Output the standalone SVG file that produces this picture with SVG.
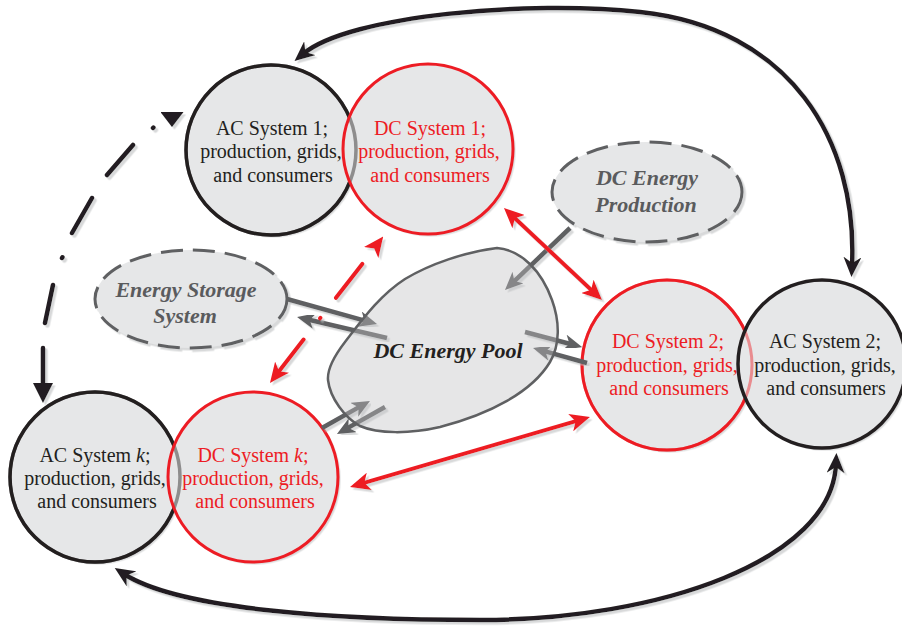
<svg xmlns="http://www.w3.org/2000/svg" width="902" height="626" viewBox="0 0 902 626">
<defs>
<filter id="sh" x="-20%" y="-20%" width="140%" height="140%"><feDropShadow dx="2.5" dy="2.5" stdDeviation="0.7" flood-color="#b8babc" flood-opacity="0.55"/></filter>
<marker id="hBlk" markerUnits="userSpaceOnUse" viewBox="0 0 20 18" markerWidth="20" markerHeight="18" refX="9" refY="9" orient="auto-start-reverse"><path d="M0,0 L20,9 L0,18 L6,9 Z" fill="#231f20"/></marker>
<marker id="hTri" markerUnits="userSpaceOnUse" viewBox="0 0 20 20" markerWidth="20" markerHeight="20" refX="4" refY="10" orient="auto-start-reverse"><path d="M0,0 L20,10 L0,20 Z" fill="#231f20"/></marker>
<marker id="hTriS" markerUnits="userSpaceOnUse" viewBox="0 0 15 23" markerWidth="15" markerHeight="23" refX="3" refY="11.5" orient="auto"><path d="M0,0 L15,11.5 L0,23 Z" fill="#231f20"/></marker>
<marker id="hRed" markerUnits="userSpaceOnUse" viewBox="0 0 20 18" markerWidth="20" markerHeight="18" refX="9" refY="9" orient="auto-start-reverse"><path d="M0,0 L20,9 L0,18 L5,9 Z" fill="#ed1c24"/></marker>
<marker id="hGray" markerUnits="userSpaceOnUse" viewBox="0 0 18 16" markerWidth="18" markerHeight="16" refX="9" refY="8" orient="auto"><path d="M0,0 L18,8 L0,16 L5,8 Z" fill="#5f6062"/></marker>
</defs>
<style>
.fill{fill:#e6e7e8}
.ac{fill:none;stroke:#231f20;stroke-width:3.5}
.dc{fill:none;stroke:#ed1c24;stroke-width:3}
.t{font-family:"Liberation Serif","Times New Roman",serif;font-size:20px;text-anchor:middle}
.tb{fill:#231f20}
.tr{fill:#ed1c24}
.ti{font-family:"Liberation Serif","Times New Roman",serif;font-size:22px;font-weight:bold;font-style:italic;text-anchor:middle}
.ell{fill:#e6e7e8;stroke:#5f6062;stroke-width:3;stroke-dasharray:22 10}
.gr{fill:none;stroke:#5f6062;stroke-width:4.5;marker-end:url(#hGray)}
.rd{fill:none;stroke:#ed1c24;stroke-width:4;marker-start:url(#hRed);marker-end:url(#hRed)}
.bk{fill:none;stroke:#231f20;stroke-width:4.5;marker-start:url(#hBlk);marker-end:url(#hBlk)}
</style>
<rect width="902" height="626" fill="#ffffff"/>

<g id="storage">
<ellipse class="ell" cx="191" cy="299" rx="96" ry="49" filter="url(#sh)"/>
<text class="ti" fill="#5a5b5d" x="186" y="297">Energy Storage</text>
<text class="ti" fill="#5a5b5d" x="185" y="323">System</text>
</g>
<g id="production">
<ellipse class="ell" cx="647" cy="192" rx="95" ry="50" filter="url(#sh)"/>
<text class="ti" fill="#5a5b5d" x="647" y="185">DC Energy</text>
<text class="ti" fill="#5a5b5d" x="646" y="212">Production</text>
</g>

<g id="ac1">
<circle class="fill" cx="271" cy="150" r="85" filter="url(#sh)"/>
<circle class="ac" cx="271" cy="150" r="85"/>
<text class="t tb" x="272" y="135">AC System 1;</text>
<text class="t tb" x="271" y="158">production, grids,</text>
<text class="t tb" x="273" y="182">and consumers</text>
</g>
<g id="dc1">
<circle class="fill" cx="428" cy="149" r="85" filter="url(#sh)"/>
<circle cx="271" cy="150" r="85" fill="none" stroke="#231f20" stroke-width="3.5" opacity="0.45"/>
<circle class="dc" cx="428" cy="149" r="85"/>
<text class="t tr" x="430" y="135">DC System 1;</text>
<text class="t tr" x="429" y="158">production, grids,</text>
<text class="t tr" x="430" y="182">and consumers</text>
</g>
<g id="dc2">
<circle class="fill" cx="667" cy="365" r="85" filter="url(#sh)"/>
<circle class="dc" cx="667" cy="365" r="85"/>
<text class="t tr" x="668" y="348">DC System 2;</text>
<text class="t tr" x="667" y="372">production, grids,</text>
<text class="t tr" x="669" y="395">and consumers</text>
</g>
<g id="ac2">
<circle class="fill" cx="822" cy="364" r="84" filter="url(#sh)"/>
<circle cx="667" cy="365" r="85" fill="none" stroke="#ed1c24" stroke-width="3" opacity="0.45"/>
<circle class="ac" cx="822" cy="364" r="84"/>
<text class="t tb" x="825" y="348">AC System 2;</text>
<text class="t tb" x="825" y="372">production, grids,</text>
<text class="t tb" x="826" y="395">and consumers</text>
</g>
<g id="ack">
<circle class="fill" cx="95" cy="477" r="85" filter="url(#sh)"/>
<circle class="ac" cx="95" cy="477" r="85"/>
<text class="t tb" x="95" y="462">AC System <tspan font-style="italic">k</tspan>;</text>
<text class="t tb" x="95" y="485">production, grids,</text>
<text class="t tb" x="97" y="508">and consumers</text>
</g>
<g id="dck">
<circle class="fill" cx="253" cy="477" r="85" filter="url(#sh)"/>
<circle cx="95" cy="477" r="85" fill="none" stroke="#231f20" stroke-width="3.5" opacity="0.45"/>
<circle class="dc" cx="253" cy="477" r="85"/>
<text class="t tr" x="253" y="462">DC System <tspan font-style="italic">k</tspan>;</text>
<text class="t tr" x="253" y="485">production, grids,</text>
<text class="t tr" x="255" y="508">and consumers</text>
</g>

<g id="connectors">
<path class="bk" filter="url(#sh)" d="M303,54 C350,15 530,0 640,12 C790,28 858,140 852,266"/>
<path class="bk" filter="url(#sh)" d="M124,574 C180,610 340,620 480,620 C660,620 832,560 836,464"/>
<path filter="url(#sh)" fill="none" stroke="#231f20" stroke-width="4.5" stroke-linecap="round" marker-start="url(#hTri)" marker-end="url(#hTriS)" d="M43,387 L43,348 M45,323 L53,285 M62,258 L62.4,257.3 M72,233 L92,198 M107,175 L133,145 M153,128 L153.4,127.6 M172,115 L172,115.1"/>

<path class="gr" filter="url(#sh)" d="M433,297 L433,249"/>
<path class="gr" filter="url(#sh)" d="M448,230 L448,279"/>
<path class="gr" filter="url(#sh)" d="M570,228 L511.5,283.8"/>
<path class="gr" filter="url(#sh)" d="M287,299 L368.3,321.6"/>
<path class="gr" filter="url(#sh)" d="M387,338 L305.8,319"/>
<path class="gr" filter="url(#sh)" d="M525,332 L573.3,344.7"/>
<path class="gr" filter="url(#sh)" d="M587,363 L541.7,350.4"/>
<path class="gr" filter="url(#sh)" d="M322,428 L362.1,405.4"/>
<path class="gr" filter="url(#sh)" d="M385,407 L344.8,429.6"/>

<path class="rd" filter="url(#sh)" d="M512,215.5 L594,292.5"/>
<path class="rd" filter="url(#sh)" d="M360.6,483.9 L579.4,420.1"/>
<path class="rd" filter="url(#sh)" stroke-linecap="round" d="M276.7,374.3 L303.6,339.6 M320.1,318.3 L320.4,317.9 M336,297.8 L362.3,263.9 M376.3,245.7 L376.6,245.3"/>
</g>

<g id="pool">
<path d="M497,248 C522,250 542,272 552,300 C560,322 560,345 550,362 C532,392 490,414 440,427 C410,434 378,434 360,426 C345,418 330,398 328,380 C327,368 335,355 345,342 C362,320 380,295 405,279 C430,264 465,252 497,248 Z" fill="#c0c1c2" fill-opacity="0.4" stroke="#5f6062" stroke-width="2.5"/>
<text class="ti" fill="#231f20" x="448" y="358">DC Energy Pool</text>
</g>
</svg>
